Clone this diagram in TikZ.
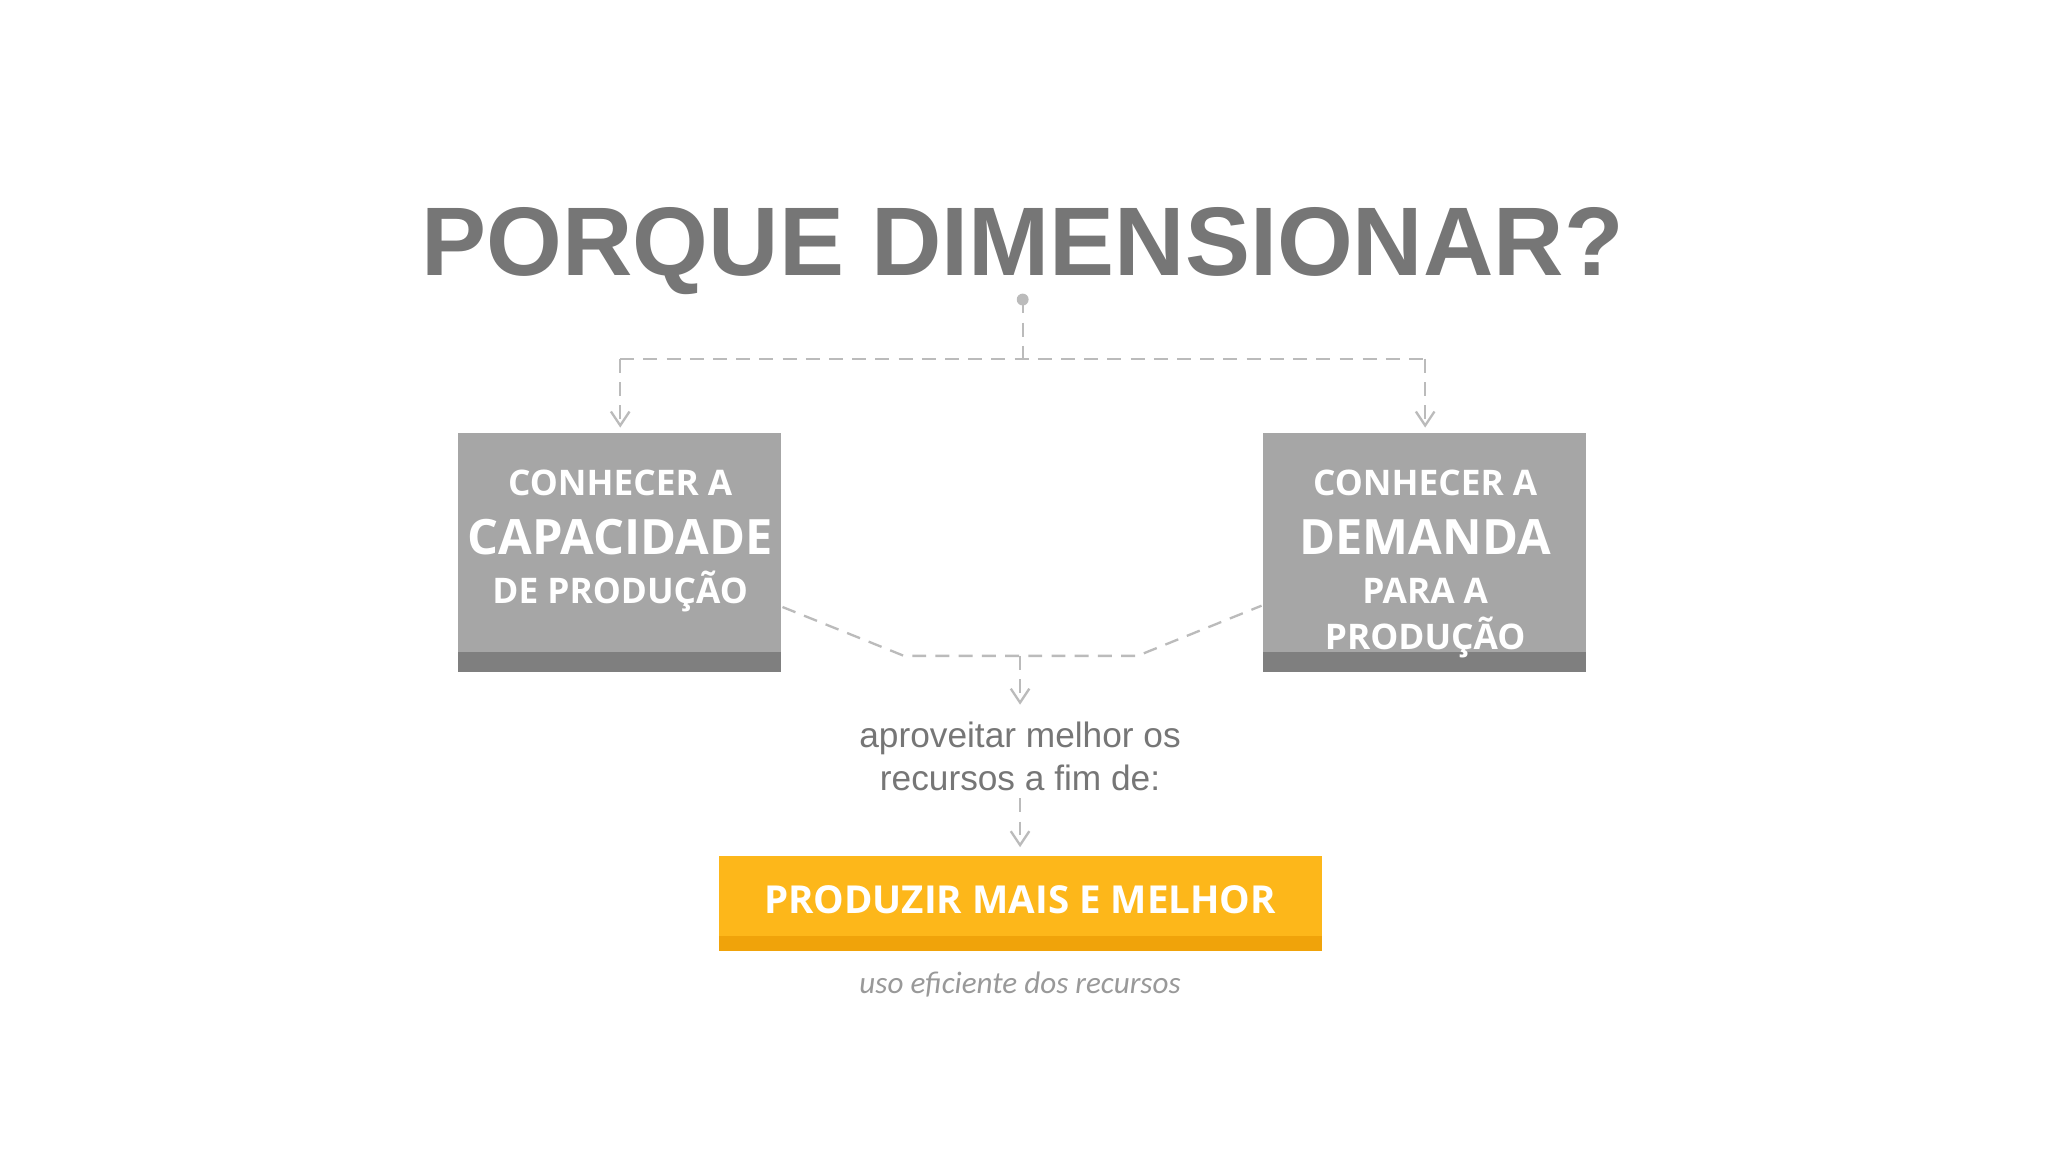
\documentclass[tikz,border=0pt]{standalone}
\usepackage{fontspec}
\setmainfont{Liberation Sans}
\newfontfamily\boxfont{Open Sans}
\newfontfamily\itfont{Carlito}
\usetikzlibrary{arrows.meta}
\definecolor{tgray}{HTML}{767676}
\definecolor{boxg}{HTML}{A6A6A6}
\definecolor{bandg}{HTML}{7F7F7F}
\definecolor{lineg}{HTML}{BBBBBB}
\definecolor{orng}{HTML}{FDB71A}
\definecolor{orngd}{HTML}{F0A30A}
\tikzset{
  conn/.style={draw=lineg, densely dashed, line width=0.5pt},
  arr/.style={conn, -{Straight Barb[length=3pt,width=4pt]}},
  boxtxt/.style={text=white, font=\boxfont\bfseries, align=center},
}
\begin{document}
\begin{tikzpicture}[x=0.01cm,y=-0.01cm]
\useasboundingbox (0,0) rectangle (1552,873);
\fill[white] (0,0) rectangle (1552,873);
\node[text=tgray, font=\fontsize{21}{24}\selectfont\bfseries] (title) at (775,190) {PORQUE DIMENSIONAR?};
\fill[lineg] (775,227) circle (4.5);
\coordinate (dot) at (775,227);
\coordinate (jn) at (775,272);
\coordinate (jl) at (470,272);
\coordinate (jr) at (1080,272);
% boxes
\fill[boxg] (347,328) rectangle (592,509);
\fill[bandg] (347,494) rectangle (592,509);
\fill[boxg] (957,328) rectangle (1202,509);
\fill[bandg] (957,494) rectangle (1202,509);
\coordinate (lt) at (470,324);
\coordinate (rt) at (1080,324);
\draw[conn] (dot) -- (jn);
\draw[conn] (jl) -- (jr);
\draw[arr] (jl) -- (lt);
\draw[arr] (jr) -- (rt);
\node[boxtxt, font=\boxfont\bfseries\fontsize{7.6}{9}\selectfont] (l1) at (470,366) {CONHECER A};
\node[boxtxt, font=\boxfont\bfseries\fontsize{10.5}{12}\selectfont] (l2) at (470,407) {CAPACIDADE};
\node[boxtxt, font=\boxfont\bfseries\fontsize{7.6}{9}\selectfont] (l3) at (470,448) {DE PRODUÇÃO};
\node[boxtxt, font=\boxfont\bfseries\fontsize{7.6}{9}\selectfont] (r1) at (1080,366) {CONHECER A};
\node[boxtxt, font=\boxfont\bfseries\fontsize{10.5}{12}\selectfont] (r2) at (1080,407) {DEMANDA};
\node[boxtxt, font=\boxfont\bfseries\fontsize{7.6}{9}\selectfont] (r3) at (1080,448) {PARA A};
\node[boxtxt, font=\boxfont\bfseries\fontsize{7.6}{9}\selectfont] (r4) at (1080,483) {PRODUÇÃO};
% merging lines
\coordinate (la) at (593,460);
\coordinate (lb) at (685,497);
\coordinate (rb) at (862,497);
\coordinate (ra) at (956,459);
\draw[conn] (la) -- (lb) -- (rb) -- (ra);
\coordinate (m1) at (773,497);
\coordinate (m2) at (773,534);
\draw[arr] (m1) -- (m2);
\node[text=tgray, font=\fontsize{7.6}{9.2}\selectfont, align=center] (mid) at (773,573) {aproveitar melhor os\\recursos a fim de:};
\coordinate (m3) at (773,605);
\coordinate (m4) at (773,642);
\draw[arr] (m3) -- (m4);
\fill[orng] (545,649) rectangle (1002,721);
\fill[orngd] (545,709) rectangle (1002,721);
\node[boxtxt, font=\boxfont\bfseries\fontsize{8.3}{10}\selectfont] (prod) at (773,682) {PRODUZIR MAIS E MELHOR};
\node[text=gray!80, font=\itfont\itshape\fontsize{6.7}{8}\selectfont] (uso) at (773,746) {uso eficiente dos recursos};
\end{tikzpicture}
\end{document}
